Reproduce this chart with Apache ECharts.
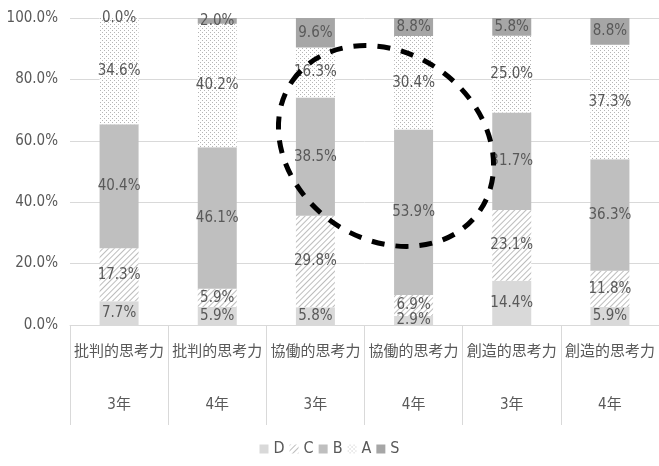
<!DOCTYPE html>
<html>
<head>
<meta charset="utf-8">
<script src="https://cdn.jsdelivr.net/npm/echarts@6/dist/echarts.min.js"></script>
<style>
  html, body { margin: 0; padding: 0; background: #fff; }
  #chart { width: 659px; height: 466px; }
</style>
</head>
<body>
<div id="chart"></div>
<script>
// categories: skill name + grade
const skills = ['批判的思考力', '批判的思考力', '協働的思考力', '協働的思考力', '創造的思考力', '創造的思考力']
const grades = ['3年', '4年', '3年', '4年', '3年', '4年']

// percentage per rating
const dVals = [7.7, 5.9, 5.8, 2.9, 14.4, 5.9]
const cVals = [17.3, 5.9, 29.8, 6.9, 23.1, 11.8]
const bVals = [40.4, 46.1, 38.5, 53.9, 31.7, 36.3]
const aVals = [34.6, 40.2, 16.3, 30.4, 25.0, 37.3]
const sVals = [0.0, 2.0, 9.6, 8.8, 5.8, 8.8]

const yTicks = [0, 20, 40, 60, 80, 100]

const FONT = "'DejaVu Sans Condensed', 'Noto Sans CJK JP', sans-serif"
const TEXT = '#595959'

const chart = echarts.init(document.getElementById('chart'))

const hatch = {
  symbol: 'rect',
  symbolSize: 1,
  color: '#bdbdbd',
  dashArrayX: [1, 0],
  dashArrayY: [1, 2.4],
  rotation: -Math.PI / 4
}
const dots = {
  symbol: 'rect',
  symbolSize: 1,
  color: '#b5b5b5',
  dashArrayX: [[1, 3], [0, 2, 1, 1]],
  dashArrayY: [1, 1],
  rotation: 0
}

function mkSeries(name, vals, color, decal) {
  return {
    name,
    type: 'bar',
    stack: 'total',
    barWidth: 39,
    data: vals,
    itemStyle: decal ? { color, decal } : { color },
    label: {
      show: true,
      position: 'inside',
      color: TEXT,
      fontFamily: FONT,
      fontSize: 15,
      formatter: (p) => p.value.toFixed(1) + '%'
    }
  }
}

chart.setOption({
  animation: false,
  textStyle: { fontFamily: FONT },
  grid: { left: 70, right: -7, top: 18, bottom: 141 },
  legend: {
    bottom: 4,
    left: 'center',
    icon: 'rect',
    itemWidth: 9,
    itemHeight: 9,
    itemGap: 5,
    textStyle: { color: TEXT, fontSize: 16, fontFamily: FONT },
    data: ['D', 'C', 'B', 'A', 'S']
  },
  xAxis: {
    type: 'category',
    data: skills.map((s, i) => s + '|' + grades[i]),
    axisLine: { lineStyle: { color: '#d9d9d9' } },
    axisTick: { show: true, length: 100, lineStyle: { color: '#d9d9d9' } },
    axisLabel: {
      interval: 0,
      margin: 6,
      formatter: (v) => {
        const [s, g] = v.split('|')
        return '{a|' + s + '}\n{b|' + g + '}'
      },
      rich: {
        a: { fontSize: 15, color: TEXT, lineHeight: 42, fontFamily: FONT },
        b: { fontSize: 15, color: TEXT, lineHeight: 64, fontFamily: FONT }
      }
    }
  },
  yAxis: {
    type: 'value',
    min: yTicks[0],
    max: yTicks[yTicks.length - 1],
    interval: 20,
    axisLine: { show: false },
    axisTick: { show: false },
    axisLabel: {
      color: TEXT,
      fontSize: 15,
      margin: 12,
      fontFamily: FONT,
      formatter: (v) => v.toFixed(1) + '%'
    },
    splitLine: { lineStyle: { color: '#d9d9d9' } }
  },
  series: [
    mkSeries('D', dVals, '#d9d9d9'),
    mkSeries('C', cVals, '#ffffff', hatch),
    mkSeries('B', bVals, '#bfbfbf'),
    mkSeries('A', aVals, '#ffffff', dots),
    mkSeries('S', sVals, '#a6a6a6')
  ],
  graphic: [
    {
      type: 'ellipse',
      x: 386,
      y: 146,
      rotation: -35 * Math.PI / 180,
      shape: { cx: 0, cy: 0, rx: 114, ry: 93 },
      style: { fill: 'none', stroke: '#000', lineWidth: 5, lineDash: [13, 11] },
      z: 100
    }
  ]
})

window.addEventListener('resize', () => chart.resize())
</script>
</body>
</html>
